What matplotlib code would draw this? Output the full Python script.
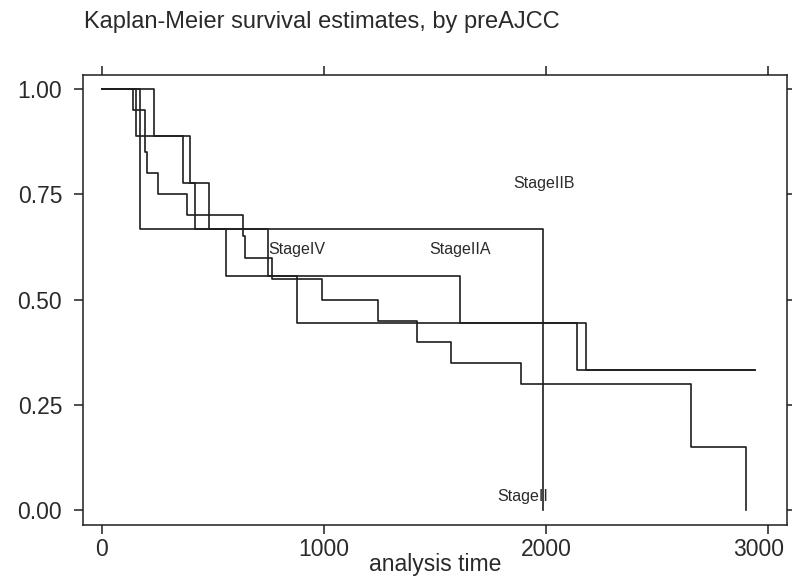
import matplotlib
matplotlib.use("Agg")
import matplotlib.pyplot as plt
from matplotlib.transforms import ScaledTranslation

plt.rcParams['font.family'] = ['Liberation Sans', 'DejaVu Sans']

# Kaplan-Meier step curves (time, survival)
t_a = [0, 172, 1988]
s_a = [1.0, 0.667, 0.0]

t_b = [0, 142, 195, 205, 255, 385, 637, 645, 765, 990, 1242, 1418, 1572, 1886, 2652, 2898]
s_b = [1.0, 0.95, 0.85, 0.80, 0.75, 0.70, 0.65, 0.60, 0.55, 0.50, 0.45, 0.40, 0.35, 0.30, 0.15, 0.0]

t_c = [0, 153, 367, 420, 559, 1612, 2139, 2940]
s_c = [1.0, 0.889, 0.778, 0.667, 0.556, 0.444, 0.333, 0.333]

t_d = [0, 237, 397, 483, 750, 880, 2178, 2940]
s_d = [1.0, 0.889, 0.778, 0.667, 0.556, 0.444, 0.333, 0.333]

# group labels and where they sit
labels = ['StageIIB', 'StageIV', 'StageIIA', 'StageII']
label_t = [1850, 750, 1473, 1779]
label_s = [0.775, 0.618, 0.618, 0.033]

xticks = [0, 1000, 2000, 3000]
yticks = [0.0, 0.25, 0.5, 0.75, 1.0]
ytick_labels = ['0.00', '0.25', '0.50', '0.75', '1.00']

ink = '#1e1e1e'

fig = plt.figure(figsize=(7.92, 5.87), dpi=100)
ax = fig.add_axes([83/792, 1 - 525/587, (787-83)/792, (525-74.5)/587])

for t, s in [(t_a, s_a), (t_b, s_b), (t_c, s_c), (t_d, s_d)]:
    ax.step(t, s, where='post', color=ink, lw=1.2)

for lab, x, y in zip(labels, label_t, label_s):
    ax.text(x, y, lab, fontsize=11.5, color='#2a2a2a', ha='left', va='center')

ax.set_xlim(-84, 3084)
ax.set_ylim(-0.0357, 1.035)
ax.set_xticks(xticks)
ax.set_xticklabels([str(v) for v in xticks])
ax.set_yticks(yticks)
ax.set_yticklabels(ytick_labels)

for sp in ax.spines.values():
    sp.set_linewidth(1.1)
    sp.set_color(ink)
ax.tick_params(axis='both', direction='out', length=6.5, width=1.1, color=ink,
               labelsize=16.5, labelcolor='#2a2a2a', top=True, right=True)
ax.tick_params(axis='x', pad=3)
ax.tick_params(axis='y', pad=8.5)

# last x label is pulled in so it stays inside the figure
last = ax.get_xticklabels()[-1]
last.set_transform(last.get_transform() + ScaledTranslation(-10/100, 0, fig.dpi_scale_trans))

ax.set_xlabel('analysis time', fontsize=16.5, color='#2a2a2a', labelpad=-6)
fig.text(84/792, 1 - 22/587, 'Kaplan-Meier survival estimates, by preAJCC',
         fontsize=17, color='#2a2a2a', ha='left', va='center')

fig.savefig('out.png', dpi=100)
